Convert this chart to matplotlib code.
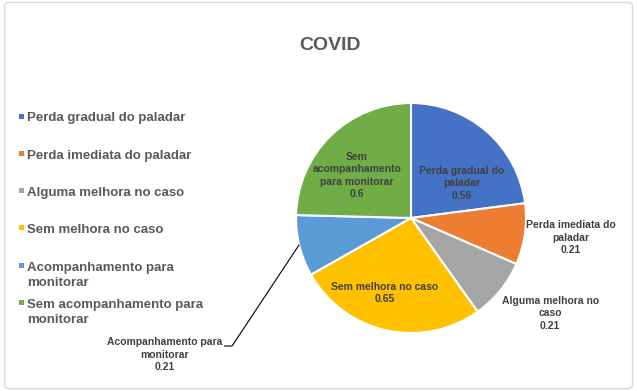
import matplotlib.pyplot as plt
from matplotlib.patches import FancyBboxPatch, Rectangle

plt.rcParams['font.family'] = ['Liberation Sans', 'DejaVu Sans']

categorias = ['Perda gradual do paladar', 'Perda imediata do paladar',
              'Alguma melhora no caso', 'Sem melhora no caso',
              'Acompanhamento para monitorar', 'Sem acompanhamento para monitorar']
valores = [0.56, 0.21, 0.21, 0.65, 0.21, 0.6]
cores = ['#4472C4', '#ED7D31', '#A5A5A5', '#FFC000', '#5B9BD5', '#70AD47']

# rotulos como no grafico (quebras de linha)
rotulos = ['Perda gradual do\npaladar', 'Perda imediata do\npaladar',
           'Alguma melhora no\ncaso', 'Sem melhora no caso',
           'Acompanhamento para\nmonitorar', 'Sem\nacompanhamento\npara monitorar']
legenda = ['Perda gradual do paladar', 'Perda imediata do paladar',
           'Alguma melhora no caso', 'Sem melhora no caso',
           'Acompanhamento para\nmonitorar', 'Sem acompanhamento para\nmonitorar']
pos_rotulos = [(0.44, 0.30), (1.39, -0.17), (1.21, -0.83),
               (-0.23, -0.65), (-2.14, -1.19), (-0.47, 0.37)]

fig = plt.figure(figsize=(6.37, 3.91), dpi=100)
fig.patches.append(FancyBboxPatch((0.007, 0.006), 0.986, 0.988,
                                  boxstyle='round,pad=0,rounding_size=0.01',
                                  transform=fig.transFigure, facecolor='white',
                                  edgecolor='#D9D9D9', linewidth=1.0, zorder=-1))

ax = fig.add_axes([296 / 637, 58 / 391, 230 / 637, 230 / 391])
ax.pie(valores, colors=cores, startangle=90, counterclock=False,
       wedgeprops=dict(edgecolor='white', linewidth=1.5))
ax.set_xlim(-1, 1)
ax.set_ylim(-1, 1)
ax.set_aspect('equal')

for i in range(len(valores)):
    x, y = pos_rotulos[i]
    ax.text(x, y, rotulos[i] + '\n' + str(valores[i]), ha='center', va='center',
            multialignment='center', fontsize=7.5, fontweight='bold',
            color='#404040', clip_on=False, linespacing=1.3)

# linha de chamada do rotulo externo
ax.plot([-1.62, -1.556, -0.974], [-1.113, -1.113, -0.235], color='black',
        linewidth=0.8, clip_on=False)

fig.text(330 / 637, 1 - 45 / 391, 'COVID', ha='center', va='center',
         fontsize=14, fontweight='bold', color='#595959')

for i, lab in enumerate(legenda):
    ytop = 1 - (113.5 + i * 37.3) / 391
    fig.patches.append(Rectangle((19 / 637, ytop - 5 / 391), 5 / 637, 5 / 391,
                                 transform=fig.transFigure, facecolor=cores[i],
                                 edgecolor='none'))
    fig.text(27 / 637, ytop + 1 / 391, lab, ha='left', va='top', fontsize=9.5,
             fontweight='bold', color='#595959', linespacing=1.35)

fig.savefig('out.png', dpi=100)
